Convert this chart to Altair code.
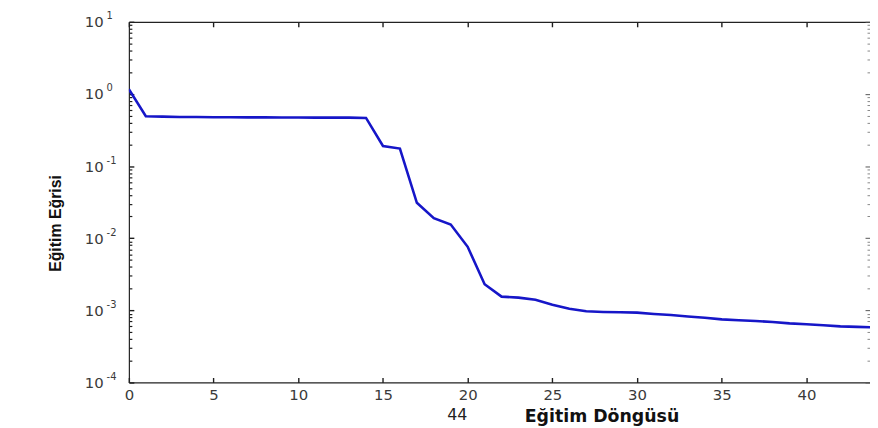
import altair as alt
import pandas as pd

epochs = list(range(45))
perf = [1.16, 0.49, 0.485, 0.48, 0.478, 0.476, 0.475, 0.474, 0.473, 0.472,
        0.471, 0.47, 0.47, 0.47, 0.465, 0.19, 0.175, 0.031, 0.019, 0.0155,
        0.0076, 0.0023, 0.00155, 0.0015, 0.0014, 0.0012, 0.00105, 0.00097, 0.00095, 0.00094,
        0.00093, 0.00089, 0.00086, 0.00082, 0.00079, 0.00075, 0.00073, 0.00071, 0.00069, 0.00066,
        0.00064, 0.00062, 0.0006, 0.00059, 0.00058]

x_ticks = [0, 5, 10, 15, 20, 25, 30, 35, 40]
y_major = [1e-4, 1e-3, 1e-2, 1e-1, 1, 10]
y_minor = [k * 10.0 ** e for e in range(-4, 1) for k in range(2, 10)]

x_title = "Eğitim Döngüsü"
x_note = "44"
y_title = "Eğitim Eğrisi"

df = pd.DataFrame({"epoch": epochs, "perf": perf})

xs = alt.Scale(domain=[0, 43.75], nice=False, zero=False)
ys = alt.Scale(type="log", domain=[1e-4, 10], nice=False)

common = dict(grid=False, labelFlush=False, labelOverlap=False)
TICK = "#1e1e1e"
LAB = "#3a3a3a"


def X(axis):
    return alt.X("epoch:Q", scale=xs, axis=axis)


def Y(axis):
    return alt.Y("perf:Q", scale=ys, axis=axis)


base = alt.Chart(df)

l1 = base.mark_line(color="#1616c8", strokeWidth=2.6, clip=True).encode(
    x=X(alt.Axis(orient="bottom", values=x_ticks, offset=-5, tickSize=5, tickWidth=1.4,
                 domain=False, tickColor=TICK, labelFont="DejaVu Sans", labelFontSize=15,
                 labelColor=LAB, labelPadding=5, format="d",
                 title=x_title, titleFont="DejaVu Sans", titleFontWeight="bold", titleFontSize=17.5,
                 titleColor="#111111", titleX=477, titleY=44, titleAlign="center",
                 titleBaseline="alphabetic", **common)),
    y=Y(alt.Axis(orient="left", values=y_major, offset=-5, tickSize=5, tickWidth=1.4,
                 domain=False, tickColor=TICK, labelExpr="'10'", labelAlign="left",
                 labelBaseline="middle", labelPadding=45, labelFont="DejaVu Sans",
                 labelFontSize=15, labelColor=LAB,
                 title=y_title, titleFont="Liberation Sans", titleFontWeight="bold",
                 titleFontSize=16, titleColor="#111111", titleX=-74, titleY=203,
                 titleAlign="center", titleBaseline="alphabetic", titleAngle=270, **common)),
)

l2 = base.mark_line(strokeOpacity=0).encode(
    x=X(alt.Axis(orient="top", values=x_ticks, offset=-5, tickSize=5, tickWidth=1.4,
                 domain=False, tickColor=TICK, labels=False, title=None, **common)),
    y=Y(alt.Axis(orient="left", values=y_major, offset=-5, tickSize=5, domain=False,
                 tickOpacity=0, labelExpr="'' + round(log(datum.value) / LN10)",
                 labelAlign="left", labelBaseline="middle", labelPadding=23, labelOffset=-6,
                 labelFont="DejaVu Sans", labelFontSize=10, labelColor=LAB, title=None, **common)),
)

l3 = base.mark_line(strokeOpacity=0).encode(
    x=X(alt.Axis(orient="bottom", offset=0, ticks=False, labels=False, domain=True,
                 domainColor="#222222", domainWidth=1.2,
                 title=x_note, titleFont="DejaVu Sans", titleFontWeight="normal", titleFontSize=16,
                 titleColor="#222222", titleX=331, titleY=37, titleAlign="center",
                 titleBaseline="alphabetic", **common)),
    y=Y(alt.Axis(orient="left", values=y_minor, offset=-3, tickSize=3, tickWidth=1.2,
                 domain=False, tickColor=TICK, labels=False, title=None, **common)),
)

l4 = base.mark_line(strokeOpacity=0).encode(
    x=X(alt.Axis(orient="top", offset=0, ticks=False, labels=False, domain=True,
                 domainColor="#222222", domainWidth=1.2, title=None, **common)),
    y=Y(alt.Axis(orient="right", values=y_major, offset=-5, tickSize=5, domain=False,
                 tickColor="#555555", labels=False, title=None, **common)),
)

l5 = base.mark_line(strokeOpacity=0).encode(
    x=X(None),
    y=Y(alt.Axis(orient="right", values=y_minor, offset=-3, tickSize=3, domain=False,
                 tickColor="#888888", labels=False, title=None, **common)),
)

l6 = base.mark_line(strokeOpacity=0).encode(
    x=X(None),
    y=Y(alt.Axis(orient="left", offset=0, ticks=False, labels=False, domain=True,
                 domainColor="#222222", domainWidth=1.2, title=None, **common)),
)

chart = (
    alt.layer(l1, l2, l3, l4, l5, l6)
    .resolve_axis(x="independent", y="independent")
    .properties(
        width=748,
        height=364,
        autosize=alt.AutoSizeParams(type="none"),
        padding={"left": 122, "top": 12, "right": 0, "bottom": 44},
        background="white",
    )
    .configure_view(stroke=None)
)

chart.save("out.html", embed_options={"renderer": "svg", "actions": False})
